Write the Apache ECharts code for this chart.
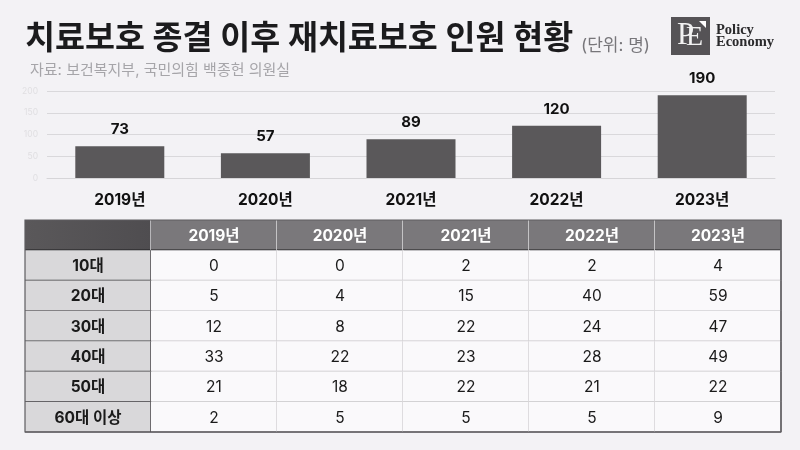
<!DOCTYPE html>
<html>
<head>
<meta charset="utf-8">
<style>
  html, body { margin: 0; padding: 0; background: #f3f2f5; }
  .chart { width: 800px; height: 450px; }
</style>
<script src="https://cdn.jsdelivr.net/npm/echarts@6/dist/echarts.min.js"></script>
</head>
<body>
<div class="chart"></div>
<script>
var KR = 'Inter, "Noto Sans CJK KR", sans-serif';

// 데이터
var years = ['2019년', '2020년', '2021년', '2022년', '2023년'];
var totals = [73, 57, 89, 120, 190];
var ageGroups = ['10대', '20대', '30대', '40대', '50대', '60대 이상'];
var age10 = [0, 0, 2, 2, 4];
var age20 = [5, 4, 15, 40, 59];
var age30 = [12, 8, 22, 24, 47];
var age40 = [33, 22, 23, 28, 49];
var age50 = [21, 18, 22, 21, 22];
var age60 = [2, 5, 5, 5, 9];
var ageRows = [age10, age20, age30, age40, age50, age60];

// 표 셀: [열, 행, 글자]
var tableCols = [''].concat(years);
var tableRows = ['head'].concat(ageGroups);
var tableData = [];
tableCols.forEach(function (c, i) {
    tableData.push([i, 0, c]);
});
ageGroups.forEach(function (a, r) {
    tableData.push([0, r + 1, a]);
    ageRows[r].forEach(function (v, i) {
        tableData.push([i + 1, r + 1, String(v)]);
    });
});

function renderCell(params, api) {
    var cell = tableData[params.dataIndex];
    var col = cell[0], row = cell[1];
    var p = api.coord([col, row]);
    var s = api.size([1, 1]);
    var x = p[0] - s[0] / 2, y = p[1] - s[1] / 2, w = s[0], h = s[1];

    var fill = '#faf9fb';
    if (row == 0 && col == 0) fill = new echarts.graphic.LinearGradient(0, 0, 1, 0, [
        { offset: 0, color: '#5a585a' }, { offset: 1, color: '#4f4d50' }
    ]);
    else if (row == 0) fill = '#7a787b';
    else if (col == 0) fill = '#d9d8da';

    var hLine = col == 0 ? '#3f3e40' : '#c6c4c7';
    var vLine = row == 0 ? '#e4e3e5' : '#d2d0d3';
    if (col == 0) vLine = row == 0 ? '#e4e3e5' : '#3f3e40';
    if (row == 0) hLine = '#1f1e20';
    if (row == 6) hLine = '#6a696b';
    if (col == 5) vLine = '#6a696b';

    var color = '#1a1a1a', weight = 'normal';
    if (row == 0) { color = '#ffffff'; weight = 'bold'; }
    else if (col == 0) { weight = 'bold'; }

    return {
        type: 'group',
        children: [
            { type: 'rect', shape: { x: x, y: y, width: w, height: h }, style: { fill: fill } },
            { type: 'line', shape: { x1: x, y1: y + h, x2: x + w, y2: y + h }, style: { stroke: hLine, lineWidth: 1.4 } },
            { type: 'line', shape: { x1: x + w, y1: y, x2: x + w, y2: y + h }, style: { stroke: vLine, lineWidth: 1.4 } },
            {
                type: 'text',
                style: {
                    text: cell[2], x: p[0], y: p[1] + 1, align: 'center', verticalAlign: 'middle',
                    fill: color, font: weight + ' 15.5px ' + KR
                }
            }
        ]
    };
}

var myChart = echarts.init(document.querySelector('.chart'), null, { renderer: 'canvas' });
var option = {
    animation: false,
    backgroundColor: '#f3f2f5',
    title: [
        { text: '치료보호 종결 이후 재치료보호 인원 현황', left: 20, top: 18, textStyle: { fontFamily: KR, fontSize: 32.6, fontWeight: 'bold', color: '#1b1b1d' } },
        { text: '(단위: 명)', left: 576, top: 32, textStyle: { fontFamily: KR, fontSize: 17, fontWeight: 'normal', color: '#77767a' } },
        { text: '자료: 보건복지부, 국민의힘 백종헌 의원실', left: 25, top: 58, textStyle: { fontFamily: KR, fontSize: 15, fontWeight: 'normal', color: '#a6a5a9' } }
    ],
    grid: [
        { left: 47, right: 25, top: 91, height: 87 },
        { left: 25, width: 756, top: 220, height: 212 }
    ],
    xAxis: [
        {
            gridIndex: 0, type: 'category', data: years,
            axisTick: { show: false },
            axisLine: { show: true, lineStyle: { color: '#d6d5d8', width: 1 } },
            axisLabel: { margin: 15, fontFamily: KR, fontSize: 15.5, fontWeight: 'bold', color: '#111111' }
        },
        { gridIndex: 1, type: 'category', data: tableCols, show: false }
    ],
    yAxis: [
        {
            gridIndex: 0, type: 'value', min: 0, max: 200, interval: 50,
            axisLine: { show: false },
            axisTick: { show: false },
            axisLabel: { margin: 9, fontSize: 8.5, color: '#e0dfe2', fontFamily: KR },
            splitLine: { lineStyle: { color: '#d9d8db', width: 1 } }
        },
        { gridIndex: 1, type: 'category', data: tableRows, inverse: true, show: false }
    ],
    series: [
        {
            type: 'bar', xAxisIndex: 0, yAxisIndex: 0, data: totals, barWidth: 89,
            itemStyle: { color: '#5a585a' },
            label: { show: true, position: 'top', distance: 9, fontFamily: KR, fontSize: 15, fontWeight: 'bold', color: '#111111' }
        },
        {
            type: 'custom', xAxisIndex: 1, yAxisIndex: 1, renderItem: renderCell,
            data: tableData.map(function (d) { return [d[0], d[1]]; }),
            silent: true, clip: false
        }
    ],
    graphic: [
        { type: 'rect', shape: { x: 671, y: 17, width: 39, height: 38 }, style: { fill: '#555356' } },
        { type: 'polygon', shape: { points: [[699, 21], [706, 21], [706, 28]] }, style: { fill: '#ffffff' } },
        { type: 'text', style: { text: 'P', x: 677, y: 20, fill: '#f2f2f2', font: '31px "Liberation Serif"' } },
        { type: 'text', style: { text: 'E', x: 686, y: 24, fill: '#f2f2f2', font: '28px "Liberation Serif"' } },
        { type: 'text', style: { text: 'Policy', x: 716, y: 23, fill: '#2a2a2c', font: 'bold 14.5px "Liberation Serif"' } },
        { type: 'text', style: { text: 'Economy', x: 716, y: 35, fill: '#2a2a2c', font: 'bold 14.5px "Liberation Serif"' } },
        // 표 바깥 테두리
        { type: 'rect', shape: { x: 25, y: 220, width: 756, height: 212 }, style: { fill: 'none', stroke: '#5e5d60', lineWidth: 1.2 }, z: 10 }
    ]
};
myChart.setOption(option);
</script>
</body>
</html>
